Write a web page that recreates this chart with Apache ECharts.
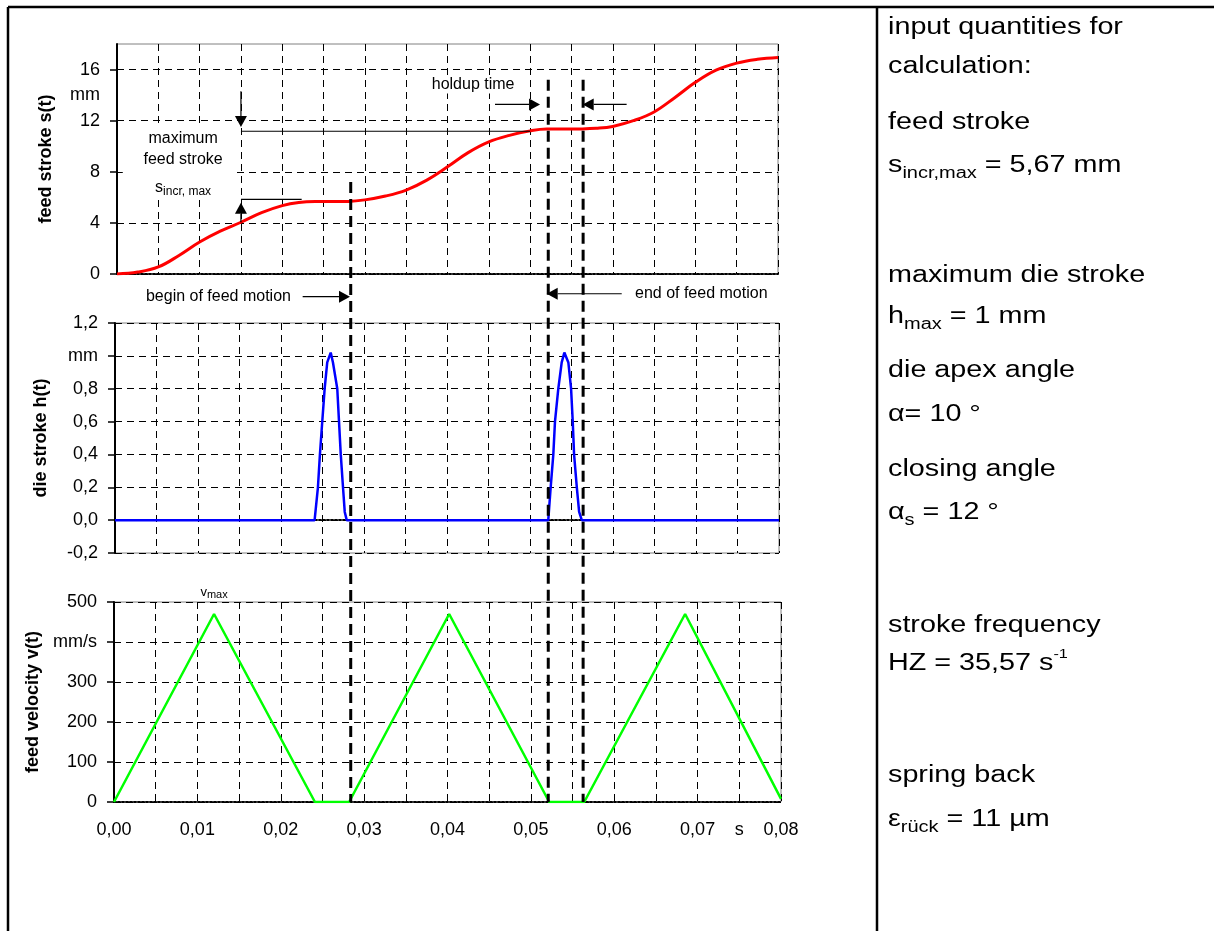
<!DOCTYPE html>
<html><head><meta charset="utf-8">
<script src="https://cdn.jsdelivr.net/npm/echarts@6/dist/echarts.min.js"></script>
<style>html,body{margin:0;padding:0;background:#fff}#c{width:1214px;height:931px}</style>
</head><body><div id="c"></div>
<script>
// ---------- data ----------
const xTickLabels = ['0,00','','0,01','','0,02','','0,03','','0,04','','0,05','','0,06','','0,07','s','0,08'];
const strokeTickValues = [0, 4, 8, 12, 16];
const strokeLabelValues = [0, 4, 8, 12, 14, 16];
const strokeTickLabels = ['0', '4', '8', '12', 'mm', '16'];
const dieTickLabels = ['-0,2', '0,0', '0,2', '0,4', '0,6', '0,8', 'mm', '1,2'];
const velTickLabels = ['0', '100', '200', '300', 'mm/s', '500'];

const strokeTime = [0, 0.0025, 0.005, 0.0075, 0.01, 0.0125, 0.015, 0.0175, 0.02, 0.022, 0.024, 0.026, 0.028, 0.03, 0.0325, 0.035, 0.0375, 0.04, 0.0425, 0.045, 0.0475, 0.05, 0.052, 0.054, 0.056, 0.058, 0.06, 0.0625, 0.065, 0.0675, 0.07, 0.0725, 0.075, 0.0775, 0.08];
const feedStroke = [0, 0.15, 0.55, 1.45, 2.5, 3.35, 4.05, 4.8, 5.35, 5.6, 5.67, 5.67, 5.68, 5.8, 6.1, 6.57, 7.35, 8.39, 9.5, 10.34, 10.85, 11.2, 11.34, 11.34, 11.35, 11.4, 11.55, 12.0, 12.68, 13.8, 15.0, 15.95, 16.5, 16.8, 16.95];

const dieTime = [0, 0.02405, 0.02445, 0.02469, 0.02497, 0.02526, 0.02557, 0.02599, 0.02626, 0.02678, 0.02699, 0.0272, 0.02747, 0.02768, 0.02792, 0.0522, 0.05249, 0.05281, 0.05301, 0.05341, 0.05382, 0.05414, 0.05462, 0.05495, 0.05515, 0.05531, 0.05564, 0.05592, 0.05624, 0.08];
const dieStroke = [0, 0, 0.2, 0.4, 0.6, 0.8, 0.96, 1.02, 0.96, 0.8, 0.6, 0.4, 0.2, 0.05, 0, 0, 0.2, 0.4, 0.6, 0.8, 0.96, 1.02, 0.96, 0.8, 0.6, 0.4, 0.2, 0.05, 0, 0];

const velTime = [0, 0.012, 0.0241, 0.0282, 0.0402, 0.0522, 0.0564, 0.0685, 0.08];
const feedVelocity = [0, 470, 0, 0, 470, 0, 0, 470, 8];

const motionLineTime = [0.0284, 0.0522, 0.0564];
const motionLineTop = [7.2, 15.2, 15.2];

// ---------- chart ----------
const FONT = '"Liberation Sans", Arial, sans-serif';
const chart = echarts.init(document.getElementById('c'), null, {renderer: 'canvas'});

const gridDefs = [
  {left: 117, right: 436, top: 44, height: 230},
  {left: 115, right: 435, top: 323, height: 230},
  {left: 114, right: 433, top: 602, height: 200}
];

const dash = {color: '#000', width: 1, type: [7, 5]};
function xAxisFor(i) {
  return {
    type: 'value', gridIndex: i, min: 0, max: 0.08, interval: 0.005,
    axisLine: {show: true, onZero: true, lineStyle: {color: '#000', width: 2, type: 'dotted'}},
    axisTick: {show: false},
    axisLabel: i === 2 ? {
      show: true, margin: 19, fontSize: 18, color: '#000', fontFamily: FONT,
      formatter: v => xTickLabels[Math.round(v / 0.005)]
    } : {show: false},
    splitLine: {show: true, lineStyle: dash}
  };
}
const yCommon = {
  axisLine: {show: true, onZero: false, lineStyle: {color: '#000', width: 2}},
  axisTick: {show: true, inside: false, length: 7, lineStyle: {color: '#000', width: 1.5}},
  splitLine: {show: true, lineStyle: dash},
  nameLocation: 'middle', nameRotate: 90,
  nameTextStyle: {fontSize: 18, fontWeight: 'bold', color: '#000', fontFamily: FONT}
};
const labelStyle = {fontSize: 18, color: '#000', fontFamily: FONT, margin: 17};

const option = {
  animation: false,
  backgroundColor: '#fff',
  textStyle: {fontFamily: FONT},
  grid: gridDefs.map(g => Object.assign({show: true, borderColor: '#808080', borderWidth: 1, backgroundColor: 'transparent'}, g)),
  xAxis: [xAxisFor(0), xAxisFor(1), xAxisFor(2)],
  yAxis: [
    Object.assign({}, yCommon, {
      type: 'value', gridIndex: 0, min: 0, max: 18, name: 'feed stroke s(t)', nameGap: 62,
      axisTick: Object.assign({}, yCommon.axisTick, {customValues: strokeTickValues}),
      axisLabel: Object.assign({}, labelStyle, {customValues: strokeLabelValues,
        formatter: v => strokeTickLabels[strokeLabelValues.indexOf(v)]})
    }),
    Object.assign({}, yCommon, {
      type: 'value', gridIndex: 1, min: -0.2, max: 1.2, interval: 0.2, name: 'die stroke h(t)', nameGap: 65,
      axisLabel: Object.assign({}, labelStyle, {formatter: v => dieTickLabels[Math.round((v + 0.2) / 0.2)]})
    }),
    Object.assign({}, yCommon, {
      type: 'value', gridIndex: 2, min: 0, max: 500, interval: 100, name: 'feed velocity v(t)', nameGap: 61,
      axisLabel: Object.assign({}, labelStyle, {formatter: v => velTickLabels[Math.round(v / 100)]})
    })
  ],
  series: [
    {type: 'line', xAxisIndex: 0, yAxisIndex: 0, data: strokeTime.map((t, i) => [t, feedStroke[i]]),
      smooth: 0.4, showSymbol: false, lineStyle: {color: '#ff0000', width: 3}, z: 5},
    {type: 'line', xAxisIndex: 1, yAxisIndex: 1, data: dieTime.map((t, i) => [t, dieStroke[i]]),
      showSymbol: false, lineStyle: {color: '#0000ff', width: 2.5}, z: 5},
    {type: 'line', xAxisIndex: 2, yAxisIndex: 2, data: velTime.map((t, i) => [t, feedVelocity[i]]),
      showSymbol: false, lineStyle: {color: '#00ff00', width: 2.5}, z: 5}
  ]
};
chart.setOption(option);

// ---------- annotations through the chart's own scales ----------
function P(g, t, v) { return chart.convertToPixel({xAxisIndex: g, yAxisIndex: g}, [t, v]); }
const els = [];
function line(x1, y1, x2, y2, w, extra) {
  els.push({type: 'line', z: 50, shape: {x1, y1, x2, y2}, style: Object.assign({stroke: '#000', lineWidth: w || 1}, extra || {}), silent: true});
}
function arrow(a, b) {
  const dx = b[0] - a[0], dy = b[1] - a[1];
  const len = Math.sqrt(dx * dx + dy * dy), ux = dx / len, uy = dy / len;
  const hl = 11, hw = 6;
  const bx = b[0] - ux * hl, by = b[1] - uy * hl;
  line(a[0], a[1], bx, by, 1.2);
  els.push({type: 'polygon', z: 50, silent: true, shape: {points: [[b[0], b[1]], [bx - uy * hw, by + ux * hw], [bx + uy * hw, by - ux * hw]]}, style: {fill: '#000'}});
}
function text(x, y, str, size, align, extra) {
  els.push(Object.assign({type: 'text', z: 50, silent: true, x, y, style: Object.assign({
    text: str, fill: '#000', fontSize: size, fontFamily: FONT,
    align: align || 'left', verticalAlign: 'middle', textAlign: align || 'left', textVerticalAlign: 'middle'
  }, (extra && extra.style) || {})}, extra && extra.el || {}));
}

// outer frame
line(8, 7, 1214, 7, 2.5);
line(8, 7, 8, 931, 2.5);
line(877, 7, 877, 931, 2.5);

// thick dashed lines marking feed motion limits
motionLineTime.forEach((t, i) => {
  const x = P(1, t, 0)[0];
  const yTop = P(0, t, motionLineTop[i])[1];
  const yBot = P(2, t, 0)[1];
  line(x, yTop, x, yBot, 3, {lineDash: [11, 6]});
});

// white box behind the "maximum feed stroke" note
const bx0 = P(0, 0.0007, 11.5), bx1 = P(0, 0.0144, 5.95);
els.push({type: 'rect', z: 40, silent: true, shape: {x: bx0[0], y: bx0[1], width: bx1[0] - bx0[0], height: bx1[1] - bx0[1]}, style: {fill: '#fff'}});

// maximum feed stroke annotation
const dA = P(0, 0.015, 14.3), dTip = P(0, 0.015, 11.5);
arrow(dA, dTip);
const hl1a = P(0, 0.015, 11.17), hl1b = P(0, 0.0500, 11.17);
line(hl1a[0], hl1a[1], hl1b[0], hl1b[1], 1.2);
const uA = P(0, 0.015, 4.05), uTip = P(0, 0.015, 5.58);
arrow(uA, uTip);
const hl2a = P(0, 0.015, 5.84), hl2b = P(0, 0.02235, 5.84);
line(hl2a[0], hl2a[1], hl2b[0], hl2b[1], 1.2);
let p = P(0, 0.008, 10.62); text(p[0], p[1], 'maximum', 16, 'center');
p = P(0, 0.008, 8.99); text(p[0], p[1], 'feed stroke', 16, 'center');
p = P(0, 0.008, 6.8);
text(p[0], p[1], '{n|s}{sub|incr, max}', 15, 'center', {style: {rich: {
  n: {fontSize: 16, lineHeight: 22, fontFamily: FONT, fill: '#000'},
  sub: {fontSize: 12, lineHeight: 12, verticalAlign: 'bottom', fontFamily: FONT, fill: '#000'}}}});

// holdup time
p = P(0, 0.0431, 14.83);
text(p[0], p[1], 'holdup time', 16, 'center', {style: {backgroundColor: '#fff', padding: [1, 2]}});
arrow(P(0, 0.04575, 13.27), P(0, 0.0512, 13.27));
arrow(P(0, 0.06168, 13.27), P(0, 0.05636, 13.27));

// begin / end of feed motion
p = P(1, 0.0212, 1.36); text(p[0], p[1], 'begin of feed motion', 16, 'right');
arrow(P(1, 0.02261, 1.36), P(1, 0.02831, 1.36));
p = P(1, 0.06265, 1.378); text(p[0], p[1], 'end of feed motion', 16, 'left');
arrow(P(1, 0.06105, 1.378), P(1, 0.05201, 1.378));

// v max
p = P(2, 0.012, 525);
text(p[0], p[1], '{n|v}{sub|max}', 13, 'center', {style: {rich: {
  n: {fontSize: 13, lineHeight: 16, fontFamily: FONT, fill: '#000'},
  sub: {fontSize: 11, lineHeight: 11, verticalAlign: 'bottom', fontFamily: FONT, fill: '#000'}}}});

// right-hand panel: input quantities
const RF = 23, RS = 16;
const rich = {
  n: {fontSize: RF, lineHeight: 32, fontFamily: FONT, fill: '#000'},
  sub: {fontSize: RS, lineHeight: 17, verticalAlign: 'bottom', fontFamily: FONT, fill: '#000'},
  sup: {fontSize: 13, lineHeight: 14, verticalAlign: 'top', fontFamily: FONT, fill: '#000'}
};
const panel = [
  [25, '{n|input quantities for}'],
  [64, '{n|calculation:}'],
  [120, '{n|feed stroke}'],
  [163, '{n|s}{sub|incr,max}{n| = 5,67 mm}'],
  [273, '{n|maximum die stroke}'],
  [314, '{n|h}{sub|max}{n| = 1 mm}'],
  [368, '{n|die apex angle}'],
  [412, '{n|α= 10 °}'],
  [467, '{n|closing angle}'],
  [510, '{n|α}{sub|s}{n| = 12 °}'],
  [623, '{n|stroke frequency}'],
  [661, '{n|HZ = 35,57 s}{sup|-1}'],
  [773, '{n|spring back}'],
  [817, '{n|ε}{sub|rück}{n| = 11 µm}']
];
panel.forEach(([y, s]) => text(888, y + 3, s, RF, 'left', {style: {rich}, el: {scaleX: 1.25, originX: 0, originY: 0}}));

chart.setOption({graphic: {elements: els}});
</script>
</body></html>
